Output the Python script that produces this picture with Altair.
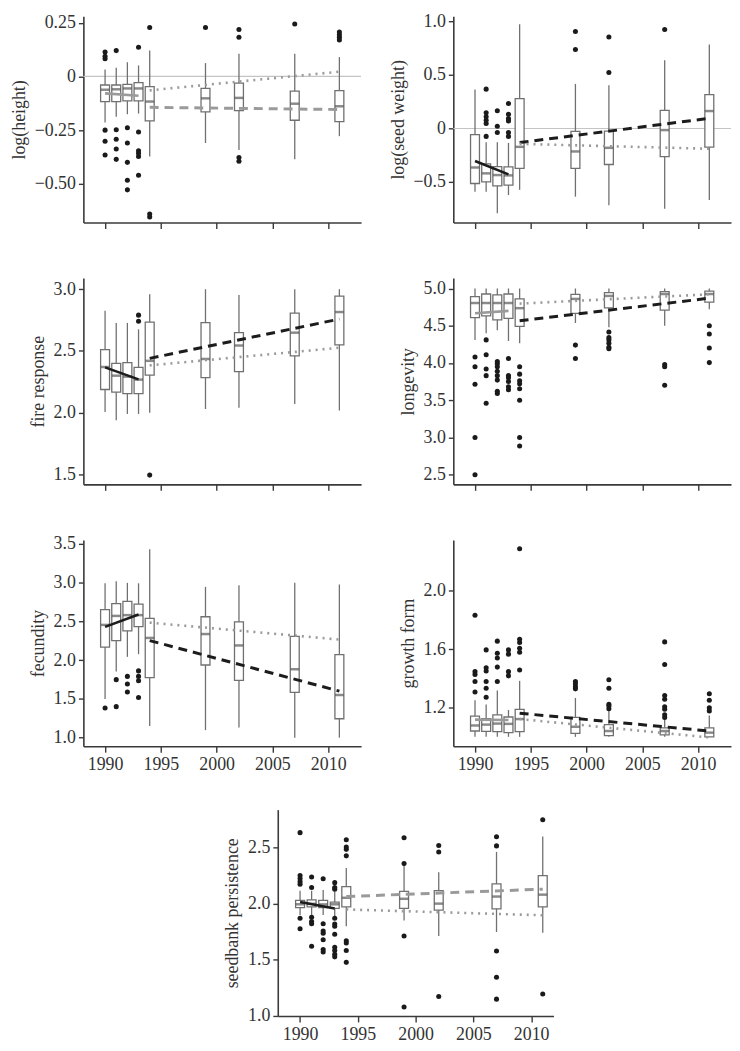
import altair as alt
import pandas as pd

YEARS = [1990, 1991, 1992, 1993, 1994, 1999, 2002, 2007, 2011]
X_TICKS = [1990, 1995, 2000, 2005, 2010]

# box statistics per year: (whisker low, q1, median, q3, whisker high)
HEIGHT_BOX = [(-0.215, -0.117, -0.062, -0.040, 0.032), (-0.188, -0.117, -0.060, -0.040, 0.040),
              (-0.176, -0.114, -0.056, -0.037, 0.066), (-0.173, -0.114, -0.056, -0.029, 0.051),
              (-0.373, -0.207, -0.117, -0.048, 0.120), (-0.310, -0.165, -0.102, -0.056, 0.062),
              (-0.343, -0.159, -0.100, -0.031, 0.105), (-0.386, -0.204, -0.127, -0.068, 0.105),
              (-0.278, -0.210, -0.139, -0.066, 0.090)]
HEIGHT_OUT = [[0.114, 0.094, 0.082, -0.25, -0.302, -0.366], [0.12, -0.248, -0.292, -0.338, -0.386],
              [-0.239, -0.31, -0.40, -0.483, -0.528], [0.136, -0.259, -0.346, -0.358, -0.373, -0.46],
              [0.228, -0.64, -0.654], [0.228], [0.218, 0.182, -0.377, -0.395], [0.244],
              [0.207, 0.194, 0.182, 0.17]]
HEIGHT_TREND = {"solid": (-0.079, -0.090, "grey"), "dashed": (-0.144, -0.154, "grey"), "dotted": (-0.065, 0.022, "grey")}

SEED_BOX = [(-0.592, -0.515, -0.365, -0.058, 0.365), (-0.592, -0.500, -0.420, -0.331, -0.129),
            (-0.794, -0.537, -0.436, -0.356, -0.129), (-0.623, -0.531, -0.439, -0.359, -0.135),
            (-0.574, -0.374, -0.172, 0.279, 0.975), (-0.638, -0.374, -0.215, -0.028, 0.417),
            (-0.718, -0.337, -0.181, -0.025, 0.405), (-0.752, -0.264, -0.015, 0.169, 0.638),
            (-0.669, -0.175, 0.163, 0.316, 0.785)]
SEED_OUT = [[], [0.368, 0.147, 0.11, 0.077, 0.046, -0.074], [0.166, 0.021, -0.037],
            [0.233, 0.132, 0.092, 0.07, -0.037, -0.074], [], [0.908, 0.739], [0.856, 0.524], [0.926], []]
SEED_TREND = {"solid": (-0.304, -0.429, "black"), "dashed": (-0.132, 0.095, "black"), "dotted": (-0.144, -0.19, "grey")}

FIRE_BOX = [(2.005, 2.188, 2.370, 2.510, 2.826), (1.940, 2.167, 2.300, 2.400, 2.727),
            (1.990, 2.154, 2.292, 2.406, 2.727), (1.990, 2.154, 2.268, 2.367, 2.675),
            (2.000, 2.305, 2.420, 2.734, 2.960), (2.030, 2.284, 2.435, 2.730, 3.000),
            (2.040, 2.333, 2.544, 2.648, 2.953), (2.070, 2.460, 2.648, 2.807, 3.000),
            (2.018, 2.550, 2.815, 2.943, 3.000)]
FIRE_OUT = [[], [], [], [2.79, 2.74], [1.495], [], [], [], []]
FIRE_TREND = {"solid": (2.367, 2.27, "black"), "dashed": (2.44, 2.758, "black"), "dotted": (2.383, 2.526, "grey")}

LONG_BOX = [(4.310, 4.610, 4.805, 4.890, 5.0), (4.400, 4.632, 4.805, 4.926, 5.0),
            (4.440, 4.580, 4.805, 4.913, 5.0), (4.295, 4.600, 4.805, 4.926, 5.0),
            (4.265, 4.490, 4.736, 4.860, 5.0), (4.537, 4.667, 4.860, 4.920, 5.0),
            (4.480, 4.740, 4.900, 4.944, 5.0), (4.500, 4.710, 4.926, 4.957, 5.0),
            (4.720, 4.818, 4.926, 4.965, 5.0)]
LONG_OUT = [[4.08, 3.95, 3.715, 3.0, 2.5], [4.31, 4.11, 3.92, 3.83, 3.46],
            [4.02, 3.99, 3.95, 3.89, 3.83, 3.77, 3.62, 3.59], [4.06, 3.83, 3.80, 3.75, 3.68, 3.64],
            [3.95, 3.85, 3.76, 3.72, 3.655, 3.5, 3.0, 2.885], [4.24, 4.06],
            [4.416, 4.34, 4.31, 4.265, 4.21, 4.19], [3.98, 3.95, 3.70], [4.50, 4.39, 4.20, 4.005]]
LONG_TREND = {"solid": (4.667, 4.70, "grey"), "dashed": (4.567, 4.87, "black"), "dotted": (4.797, 4.922, "grey")}

FEC_BOX = [(1.500, 2.168, 2.454, 2.650, 2.990), (1.853, 2.252, 2.570, 2.727, 3.017),
           (2.042, 2.378, 2.580, 2.756, 2.996), (2.076, 2.433, 2.580, 2.723, 2.990),
           (1.151, 1.773, 2.286, 2.538, 3.430), (1.097, 1.937, 2.336, 2.559, 2.945),
           (1.130, 1.740, 2.189, 2.492, 2.966), (1.000, 1.584, 1.882, 2.307, 2.996),
           (1.000, 1.244, 1.550, 2.071, 2.975)]
FEC_OUT = [[1.382], [1.748, 1.40], [1.79, 1.693, 1.588], [1.861, 1.79, 1.735, 1.517], [], [], [], [], []]
FEC_TREND = {"solid": (2.429, 2.588, "black"), "dashed": (2.252, 1.60, "black"), "dotted": (2.483, 2.265, "grey")}

GROWTH_BOX = [(1.0, 1.040, 1.078, 1.142, 1.251), (1.0, 1.038, 1.084, 1.124, 1.222),
              (1.0, 1.036, 1.091, 1.151, 1.318), (1.0, 1.029, 1.089, 1.136, 1.184),
              (1.0, 1.036, 1.122, 1.189, 1.384), (1.0, 1.024, 1.069, 1.133, 1.267),
              (1.0, 1.009, 1.040, 1.084, 1.184), (1.0, 1.013, 1.040, 1.062, 1.140),
              (1.0, 1.000, 1.029, 1.062, 1.147)]
GROWTH_OUT = [[1.833, 1.447, 1.427, 1.38, 1.307], [1.596, 1.473, 1.451, 1.38, 1.333, 1.271],
              [1.656, 1.573, 1.54, 1.478, 1.38], [1.596, 1.567, 1.447, 1.418],
              [2.289, 1.669, 1.647, 1.607, 1.58, 1.458], [1.38, 1.362, 1.344, 1.329],
              [1.391, 1.333, 1.224, 1.211, 1.193], [1.651, 1.496, 1.284, 1.258, 1.207, 1.189, 1.151, 1.133],
              [1.296, 1.251, 1.2, 1.178]]
GROWTH_TREND = {"solid": (1.118, 1.116, "grey"), "dashed": (1.162, 1.04, "black"), "dotted": (1.122, 0.996, "grey")}

SEEDBANK_BOX = [(1.901, 1.967, 1.996, 2.031, 2.117), (1.901, 1.973, 2.000, 2.036, 2.117),
                (1.901, 1.967, 1.995, 2.031, 2.123), (1.887, 1.959, 1.996, 2.016, 2.110),
                (1.800, 1.973, 2.054, 2.154, 2.319), (1.852, 1.959, 2.045, 2.111, 2.347),
                (1.714, 1.944, 2.002, 2.117, 2.281), (1.749, 1.956, 2.065, 2.178, 2.463),
                (1.743, 1.973, 2.082, 2.252, 2.600)]
SEEDBANK_OUT = [[2.635, 2.252, 2.226, 2.198, 2.175, 1.872, 1.777], [2.24, 2.146, 1.88, 1.843, 1.823, 1.622],
                [2.224, 1.823, 1.757, 1.737, 1.68, 1.593, 1.57],
                [2.189, 2.146, 2.13, 1.872, 1.82, 1.80, 1.728, 1.613, 1.584, 1.55, 1.527],
                [2.572, 2.506, 2.486, 2.428, 1.67, 1.65, 1.584, 1.478], [2.589, 2.359, 1.714, 1.08],
                [2.52, 2.463, 1.173], [2.598, 2.517, 1.579, 1.345, 1.15], [2.75, 1.196]]
SEEDBANK_TREND = {"solid": (2.016, 1.959, "black"), "dashed": (2.065, 2.131, "grey"), "dotted": (1.95, 1.898, "grey")}

SEG_YEARS = {"solid": (1990, 1993), "dashed": (1994, 2011), "dotted": (1994, 2011)}
COLORS = {"black": "#1c1c1c", "grey": "#9a9a9a"}

FONT = "Liberation Serif"
BOX_COL = "#707070"
H = 208
W = 280


def panel(title, box, outs, trend, ydom, yticks, label_expr, zero, xlabels, width, xdom):
    bdf = pd.DataFrame([dict(year=y, lo=b[0], q1=b[1], med=b[2], q3=b[3], hi=b[4]) for y, b in zip(YEARS, box)])
    odf = pd.DataFrame([dict(year=y, v=v) for y, vs in zip(YEARS, outs) for v in vs])
    xaxis = alt.Axis(values=X_TICKS, labels=xlabels, title=None, format="d", tickSize=6, labelPadding=4)
    xs = alt.Scale(domain=xdom, nice=False, zero=False)
    ys = alt.Scale(domain=ydom, nice=False, zero=False)
    yaxis = alt.Axis(values=yticks, title=title, labelExpr=label_expr, tickSize=5, labelPadding=3, titlePadding=6)

    def X():
        return alt.X("year:Q", scale=xs, axis=xaxis)

    def Y(f):
        return alt.Y(f, type="quantitative", scale=ys, axis=yaxis)

    layers = []
    if zero:
        zdf = pd.DataFrame({"v": [0.0]})
        layers.append(alt.Chart(zdf).mark_rule(color="#c4c4c4", strokeWidth=1.2).encode(y=Y("v")))
    layers.append(alt.Chart(bdf).mark_rule(color=BOX_COL, strokeWidth=1.3).encode(
        x=X(), y=Y("lo"), y2=alt.Y2("hi")))
    layers.append(alt.Chart(bdf).mark_bar(size=9, fill="white", stroke=BOX_COL, strokeWidth=1.3).encode(
        x=X(), y=Y("q1"), y2=alt.Y2("q3")))
    layers.append(alt.Chart(bdf).mark_tick(orient="horizontal", size=9, thickness=2.5, color="#585858").encode(
        x=X(), y=Y("med")))
    if len(odf):
        layers.append(alt.Chart(odf).mark_circle(size=26, color="#1a1a1a", opacity=1).encode(
            x=X(), y=Y("v")))
    styles = {"solid": dict(strokeWidth=2.6),
              "dashed": dict(strokeWidth=3, strokeDash=[9, 6]),
              "dotted": dict(strokeWidth=2.6, strokeDash=[2, 5])}
    for seg, (v0, v1, col) in trend.items():
        y0, y1 = SEG_YEARS[seg]
        ldf = pd.DataFrame({"year": [y0, y1], "v": [v0, v1], "c": [COLORS[col]] * 2})
        layers.append(alt.Chart(ldf).mark_line(strokeCap="butt", **styles[seg]).encode(
            x=X(), y=Y("v"), color=alt.Color("c:N", scale=None)))
    return alt.layer(*layers).properties(width=width, height=H)


ZERO2 = "datum.value == 0 ? '0' : format(datum.value, '.2f')"
ZERO1 = "datum.value == 0 ? '0' : format(datum.value, '.1f')"
F1 = "format(datum.value, '.1f')"
XD = [1988.5, 2012.5]

p1 = panel("log(height)", HEIGHT_BOX, HEIGHT_OUT, HEIGHT_TREND, [-0.68, 0.28], [-0.5, -0.25, 0, 0.25], ZERO2, True, False, W, XD)
p2 = panel("log(seed weight)", SEED_BOX, SEED_OUT, SEED_TREND, [-0.88, 1.05], [-0.5, 0, 0.5, 1.0], ZERO1, True, False, W, XD)
p3 = panel("fire response", FIRE_BOX, FIRE_OUT, FIRE_TREND, [1.42, 3.09], [1.5, 2.0, 2.5, 3.0], F1, False, False, W, XD)
p4 = panel("longevity", LONG_BOX, LONG_OUT, LONG_TREND, [2.37, 5.14], [2.5, 3.0, 3.5, 4.0, 4.5, 5.0], F1, False, False, W, XD)
p5 = panel("fecundity", FEC_BOX, FEC_OUT, FEC_TREND, [0.89, 3.55], [1.0, 1.5, 2.0, 2.5, 3.0, 3.5], F1, False, True, W, XD)
p6 = panel("growth form", GROWTH_BOX, GROWTH_OUT, GROWTH_TREND, [0.936, 2.35], [1.2, 1.6, 2.0], F1, False, True, W, XD)
p7 = panel("seedbank persistence", SEEDBANK_BOX, SEEDBANK_OUT, SEEDBANK_TREND, [1.0, 2.84], [1.0, 1.5, 2.0, 2.5], F1, False, True, 278, [1988.5, 2011.5])

spacer = alt.Chart(pd.DataFrame({"a": [0]})).mark_point(opacity=0, size=1).encode(
    x=alt.X("a:Q", axis=None, scale=alt.Scale(domain=[-1, 1])),
    y=alt.Y("a:Q", axis=None, scale=alt.Scale(domain=[-1, 1]))).properties(width=2, height=H)

grid = alt.concat(p1, p2, p3, p4, p5, p6, columns=2, spacing={"row": 56, "column": 93}, bounds="flush")
bottom = alt.hconcat(spacer, p7, spacing=139)

chart = alt.vconcat(grid, bottom, spacing=36).properties(
    padding={"left": 2, "top": 0, "right": 0, "bottom": 0}
).configure_view(stroke=None).configure_axis(
    grid=False, domainColor="#3a3a3a", domainWidth=1.6, tickColor="#3a3a3a", tickWidth=1.4,
    labelFont=FONT, labelFontSize=18, labelColor="#333333",
    titleFont=FONT, titleFontSize=18, titleFontWeight="normal", titleColor="#333333"
)

chart.save("out.html", embed_options={"renderer": "svg", "actions": False})
